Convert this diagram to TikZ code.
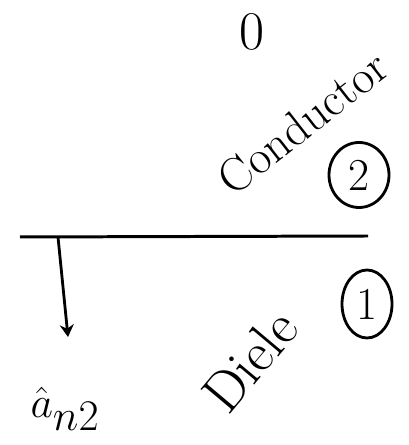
\documentclass[tikz,border=0pt]{standalone}
\usepackage{amsmath}
\usepackage{tikz}
\usetikzlibrary{
    shapes.geometric, arrows.meta, positioning
}
\tikzset{
  hand/.style={inner sep=0pt, font=\fontsize{27}{30}\selectfont},
  region/.style={ellipse, draw, line width=1.6pt, inner sep=0pt,
                 font=\fontsize{26}{28}\selectfont},
  iface/.style={line width=1.7pt},
  arr/.style={-{Stealth[length=7pt, width=8pt]}, line width=1.6pt},
}

\begin{document}
\begin{tikzpicture}
  \useasboundingbox (0,0) rectangle (8.16,8.9);

  \node[hand, font=\fontsize{31}{34}\selectfont] (zero) at (5.04,8.26) {0};
  \node[hand, rotate=38] (cond) at (6.05,6.45) {Conductor};
  \node[region, minimum width=1.2cm, minimum height=1.3cm] (reg2) at (7.18,5.4) {2};

  \coordinate (ifl) at (0.4,4.16);
  \coordinate (ifr) at (7.36,4.18);
  \draw[iface] (ifl) -- (ifr);

  \coordinate (ntail) at (1.16,4.16);
  \coordinate (nhead) at (1.36,2.16);
  \draw[arr] (ntail) -- (nhead);

  \node[region, minimum width=1.0cm, minimum height=1.36cm] (reg1) at (7.34,2.82) {1};
  \node[hand, font=\fontsize{38}{40}\selectfont] (an) at (1.3,0.72) {$\hat{a}_{n2}$};
  \node[hand, rotate=50, font=\fontsize{32}{34}\selectfont] (diel) at (5.0,1.68) {Diele};

\end{tikzpicture}
\end{document}
